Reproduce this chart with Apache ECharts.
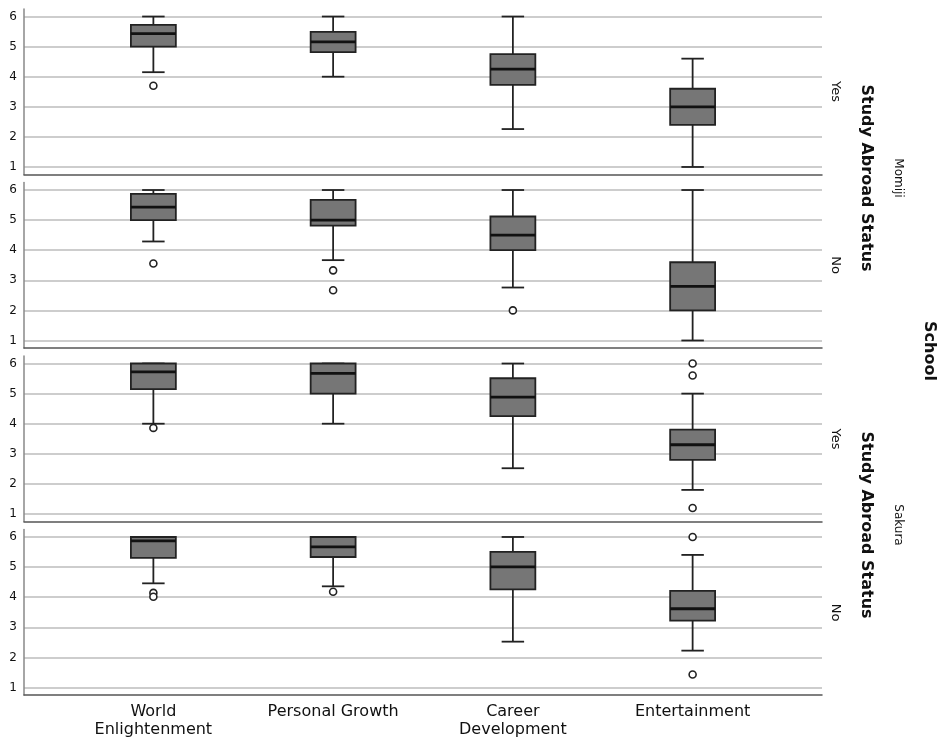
<!DOCTYPE html>
<html>
<head>
<meta charset="utf-8">
<script src="https://cdn.jsdelivr.net/npm/echarts@6/dist/echarts.min.js"></script>
<style>
  html, body { margin: 0; padding: 0; background: #fff; }
  #chart { width: 940px; height: 739px; }
</style>
</head>
<body>
<div id="chart"></div>
<script>
// Categories along the x axis
const categories = ['World\nEnlightenment', 'Personal Growth', 'Career\nDevelopment', 'Entertainment'];

// Box summaries per category: [lower whisker, Q1, median, Q3, upper whisker]
const momijiYesBoxes = [
  [4.15, 5.0, 5.43, 5.72, 6.0],
  [4.0, 4.82, 5.16, 5.49, 6.0],
  [2.26, 3.73, 4.25, 4.75, 6.0],
  [1.0, 2.4, 3.0, 3.6, 4.6]
];
const momijiNoBoxes = [
  [4.29, 5.0, 5.43, 5.87, 6.0],
  [3.67, 4.82, 5.0, 5.67, 6.0],
  [2.76, 4.0, 4.5, 5.12, 6.0],
  [1.0, 2.0, 2.8, 3.6, 6.0]
];
const sakuraYesBoxes = [
  [4.0, 5.15, 5.72, 6.0, 6.0],
  [4.0, 5.0, 5.67, 6.0, 6.0],
  [2.52, 4.25, 4.88, 5.51, 6.0],
  [1.8, 2.8, 3.3, 3.8, 5.0]
];
const sakuraNoBoxes = [
  [4.45, 5.3, 5.87, 6.0, 6.0],
  [4.35, 5.33, 5.67, 6.0, 6.0],
  [2.5, 4.25, 5.0, 5.5, 6.0],
  [2.2, 3.2, 3.6, 4.2, 5.4]
];

// Outliers: [category index, value]
const momijiYesOutliers = [[0, 3.7]];
const momijiNoOutliers = [[0, 3.56], [1, 3.33], [1, 2.67], [2, 2.0]];
const sakuraYesOutliers = [[0, 3.86], [3, 6.0], [3, 5.6], [3, 1.2]];
const sakuraNoOutliers = [[0, 4.13], [0, 4.0], [1, 4.17], [3, 6.0], [3, 1.4]];

// Y scale shared by every panel
const yMin = 0.75;
const yMax = 6.25;

const panels = [
  { boxes: momijiYesBoxes, outliers: momijiYesOutliers },
  { boxes: momijiNoBoxes, outliers: momijiNoOutliers },
  { boxes: sakuraYesBoxes, outliers: sakuraYesOutliers },
  { boxes: sakuraNoBoxes, outliers: sakuraNoOutliers }
];

const panelTops = [9, 182.5, 356, 529.5];
const panelHeight = 165.5;
const FONT = '"DejaVu Sans", Verdana, sans-serif';

const grids = [];
const xAxes = [];
const yAxes = [];
const series = [];

function renderBox(params, api) {
  const x = api.value(0);
  const lo = api.coord([x, api.value(1)]);
  const q1 = api.coord([x, api.value(2)]);
  const md = api.coord([x, api.value(3)]);
  const q3 = api.coord([x, api.value(4)]);
  const hi = api.coord([x, api.value(5)]);
  const band = api.size([1, 0])[0];
  const bw = band * 0.25;
  const cap = bw / 2;
  const cx = lo[0];
  const stroke = '#222';
  const lw = 1.8;
  return {
    type: 'group',
    children: [
      { type: 'line', shape: { x1: cx, y1: lo[1], x2: cx, y2: q1[1] }, style: { stroke, lineWidth: lw } },
      { type: 'line', shape: { x1: cx, y1: q3[1], x2: cx, y2: hi[1] }, style: { stroke, lineWidth: lw } },
      { type: 'line', shape: { x1: cx - cap / 2, y1: lo[1], x2: cx + cap / 2, y2: lo[1] }, style: { stroke, lineWidth: lw } },
      { type: 'line', shape: { x1: cx - cap / 2, y1: hi[1], x2: cx + cap / 2, y2: hi[1] }, style: { stroke, lineWidth: lw } },
      { type: 'rect', shape: { x: cx - bw / 2, y: q3[1], width: bw, height: q1[1] - q3[1] },
        style: { fill: '#767676', stroke, lineWidth: lw } },
      { type: 'line', shape: { x1: cx - bw / 2, y1: md[1], x2: cx + bw / 2, y2: md[1] }, style: { stroke: '#111', lineWidth: 2.8 } }
    ]
  };
}

panels.forEach((p, i) => {
  const top = panelTops[i];
  const isLast = i === panels.length - 1;
  const frameIdx = i * 2;
  const boxIdx = i * 2 + 1;

  // Frame grid: y labels, grid lines, axis lines
  grids.push({ left: 24, right: 118, top: top, height: panelHeight });
  // Box grid: narrower, holds the category bands
  grids.push({ left: 63.5, right: 157.5, top: top, height: panelHeight });

  xAxes.push({
    gridIndex: frameIdx, type: 'value', min: 0, max: 1,
    axisLine: { show: true, lineStyle: { color: '#555', width: 1.5 } },
    axisTick: { show: false }, axisLabel: { show: false }, splitLine: { show: false }
  });
  xAxes.push({
    gridIndex: boxIdx, type: 'category', data: categories, boundaryGap: true,
    axisLine: { show: false }, axisTick: { show: false },
    axisLabel: {
      show: isLast, fontFamily: FONT, fontSize: 16, color: '#111',
      lineHeight: 18, margin: 9, interval: 0
    },
    splitLine: { show: false }
  });

  yAxes.push({
    gridIndex: frameIdx, type: 'value', min: yMin, max: yMax,
    axisLine: { show: true, lineStyle: { color: '#888', width: 1.5 } },
    axisTick: { show: false },
    axisLabel: {
      fontFamily: FONT, fontSize: 12, color: '#111', margin: 7,
      showMinLabel: false, showMaxLabel: false,
      formatter: v => (Math.abs(v - Math.round(v)) < 1e-6 ? String(Math.round(v)) : '')
    },
    splitLine: { show: true, showMinLine: false, showMaxLine: false, lineStyle: { color: '#bdbdbd', width: 1.5 } }
  });
  yAxes.push({
    gridIndex: boxIdx, type: 'value', min: yMin, max: yMax,
    axisLine: { show: false }, axisTick: { show: false }, axisLabel: { show: false },
    splitLine: { show: false }
  });

  series.push({
    type: 'custom',
    xAxisIndex: boxIdx, yAxisIndex: boxIdx,
    renderItem: renderBox,
    encode: { x: 0, y: [1, 2, 3, 4, 5] },
    data: p.boxes.map((b, k) => [k].concat(b)),
    z: 3
  });
  series.push({
    type: 'scatter',
    xAxisIndex: boxIdx, yAxisIndex: boxIdx,
    symbol: 'circle', symbolSize: 7,
    itemStyle: { color: '#fff', borderColor: '#222', borderWidth: 1.6, opacity: 1 },
    data: p.outliers,
    z: 4
  });
});

function vText(text, x, y, size, weight) {
  return {
    type: 'text', x: x, y: y, rotation: -Math.PI / 2,
    style: {
      text: text, fill: '#111', font: weight + ' ' + size + 'px ' + FONT,
      textAlign: 'center', textVerticalAlign: 'middle'
    }
  };
}

const chart = echarts.init(document.getElementById('chart'), null, { renderer: 'canvas' });
chart.setOption({
  animation: false,
  backgroundColor: '#fff',
  grid: grids,
  xAxis: xAxes,
  yAxis: yAxes,
  series: series,
  graphic: [
    vText('Yes', 835, 91.5, 13, 'normal'),
    vText('No', 835, 265, 13, 'normal'),
    vText('Yes', 835, 439, 13, 'normal'),
    vText('No', 835, 612.5, 13, 'normal'),
    vText('Study Abroad Status', 866, 178, 16, 'bold'),
    vText('Study Abroad Status', 866, 525, 16, 'bold'),
    vText('Momiji', 898, 178, 12, 'normal'),
    vText('Sakura', 898, 525, 12, 'normal'),
    vText('School', 929, 351, 16, 'bold')
  ]
});
</script>
</body>
</html>
